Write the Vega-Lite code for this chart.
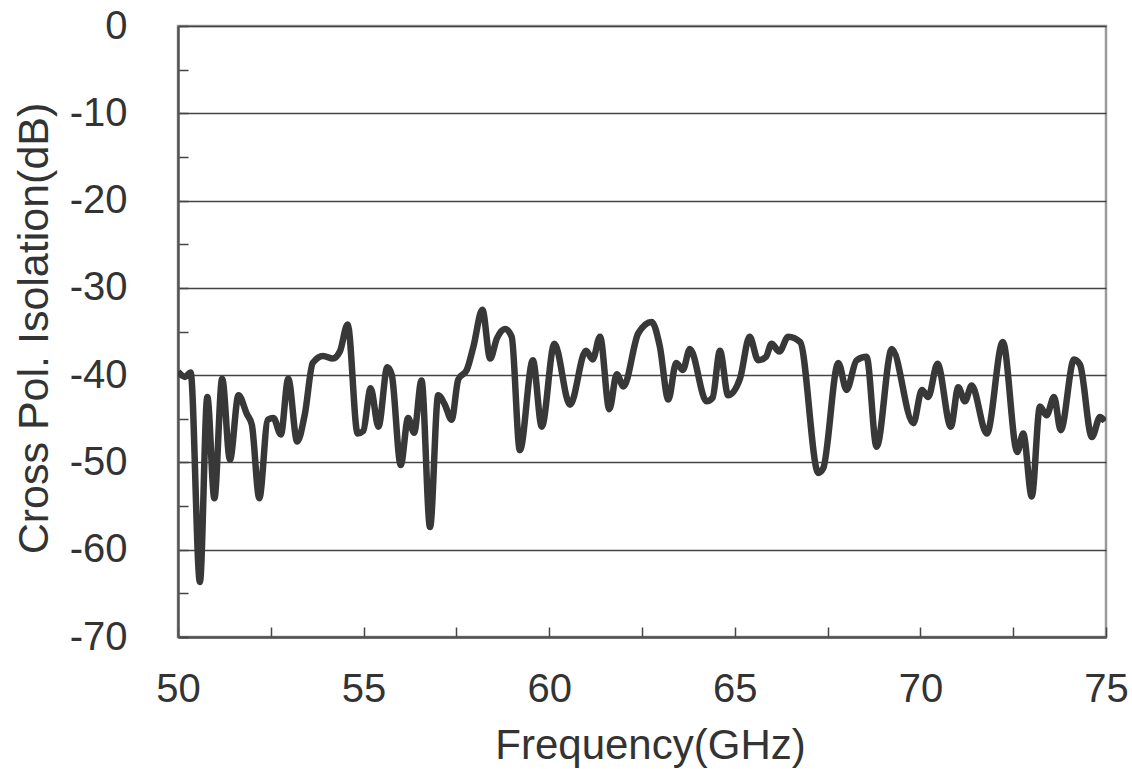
{
  "$schema": "https://vega.github.io/schema/vega-lite/v6.json",
  "width": 928,
  "height": 611,
  "autosize": {"type": "none"},
  "padding": {"left": 178, "top": 26, "right": 26, "bottom": 132},
  "background": "white",
  "config": {
    "view": {"stroke": "#9a9a9a", "strokeWidth": 2.5},
    "font": "Liberation Sans"
  },
  "data": {
    "values": [
      {"f": 50.0, "v": -39.6}, {"f": 50.19, "v": -40.2}, {"f": 50.34, "v": -39.7},
      {"f": 50.59, "v": -63.7}, {"f": 50.79, "v": -42.5}, {"f": 50.98, "v": -54.1},
      {"f": 51.19, "v": -40.4}, {"f": 51.4, "v": -49.7}, {"f": 51.63, "v": -42.3},
      {"f": 51.85, "v": -44.4}, {"f": 51.99, "v": -45.7}, {"f": 52.19, "v": -54.1},
      {"f": 52.42, "v": -45.1}, {"f": 52.57, "v": -44.9}, {"f": 52.77, "v": -46.8},
      {"f": 52.97, "v": -40.4}, {"f": 53.21, "v": -47.6}, {"f": 53.42, "v": -44.4},
      {"f": 53.63, "v": -38.6}, {"f": 53.91, "v": -37.8}, {"f": 54.17, "v": -38.1},
      {"f": 54.36, "v": -37.3}, {"f": 54.57, "v": -34.2}, {"f": 54.84, "v": -46.7},
      {"f": 54.99, "v": -46.4}, {"f": 55.19, "v": -41.5}, {"f": 55.4, "v": -45.9},
      {"f": 55.64, "v": -39.1}, {"f": 55.76, "v": -40.0}, {"f": 56.0, "v": -50.3},
      {"f": 56.2, "v": -44.9}, {"f": 56.36, "v": -46.6}, {"f": 56.56, "v": -40.6},
      {"f": 56.79, "v": -57.4}, {"f": 57.01, "v": -42.3}, {"f": 57.19, "v": -43.4},
      {"f": 57.37, "v": -45.1}, {"f": 57.55, "v": -40.5}, {"f": 57.78, "v": -39.4},
      {"f": 57.96, "v": -36.7}, {"f": 58.2, "v": -32.5}, {"f": 58.41, "v": -38.1},
      {"f": 58.59, "v": -35.8}, {"f": 58.81, "v": -34.7}, {"f": 58.99, "v": -35.6},
      {"f": 59.21, "v": -48.6}, {"f": 59.56, "v": -38.3}, {"f": 59.8, "v": -45.9},
      {"f": 60.14, "v": -36.4}, {"f": 60.56, "v": -43.4}, {"f": 60.99, "v": -37.2},
      {"f": 61.17, "v": -38.2}, {"f": 61.37, "v": -35.6}, {"f": 61.62, "v": -43.9},
      {"f": 61.82, "v": -39.9}, {"f": 62.0, "v": -41.3}, {"f": 62.4, "v": -35.2},
      {"f": 62.76, "v": -33.9}, {"f": 62.98, "v": -36.7}, {"f": 63.21, "v": -42.8},
      {"f": 63.42, "v": -38.6}, {"f": 63.6, "v": -39.4}, {"f": 63.79, "v": -37.0},
      {"f": 64.24, "v": -43.0}, {"f": 64.4, "v": -42.6}, {"f": 64.6, "v": -37.2},
      {"f": 64.82, "v": -42.3}, {"f": 65.14, "v": -40.4}, {"f": 65.4, "v": -35.6},
      {"f": 65.63, "v": -38.3}, {"f": 65.84, "v": -37.9}, {"f": 65.99, "v": -36.4},
      {"f": 66.2, "v": -37.3}, {"f": 66.44, "v": -35.6}, {"f": 66.76, "v": -36.2},
      {"f": 67.25, "v": -51.2}, {"f": 67.38, "v": -50.7}, {"f": 67.79, "v": -38.6},
      {"f": 68.01, "v": -41.7}, {"f": 68.28, "v": -38.3}, {"f": 68.55, "v": -37.9},
      {"f": 68.82, "v": -48.2}, {"f": 69.23, "v": -37.0}, {"f": 69.81, "v": -45.5},
      {"f": 70.04, "v": -41.7}, {"f": 70.21, "v": -42.5}, {"f": 70.46, "v": -38.7},
      {"f": 70.82, "v": -45.9}, {"f": 71.02, "v": -41.4}, {"f": 71.2, "v": -43.0},
      {"f": 71.38, "v": -41.2}, {"f": 71.79, "v": -46.7}, {"f": 72.22, "v": -36.2},
      {"f": 72.61, "v": -48.8}, {"f": 72.77, "v": -46.7}, {"f": 73.0, "v": -53.9},
      {"f": 73.22, "v": -43.6}, {"f": 73.4, "v": -44.6}, {"f": 73.6, "v": -42.5},
      {"f": 73.78, "v": -46.3}, {"f": 74.14, "v": -38.2}, {"f": 74.3, "v": -38.8},
      {"f": 74.62, "v": -47.1}, {"f": 74.84, "v": -44.8}, {"f": 74.97, "v": -45.3}
    ]
  },
  "mark": {"type": "line", "interpolate": "monotone", "color": "#383838", "strokeWidth": 6.5, "clip": true},
  "encoding": {
    "x": {
      "field": "f",
      "type": "quantitative",
      "scale": {"domain": [50, 75], "nice": false, "zero": false},
      "axis": {
        "title": "Frequency(GHz)",
        "values": [50, 52.5, 55, 57.5, 60, 62.5, 65, 67.5, 70, 72.5, 75],
        "labelExpr": "datum.value % 5 == 0 ? '' + datum.value : ''",
        "labelFontSize": 40,
        "labelColor": "#333333",
        "labelPadding": 42,
        "labelFlush": false,
        "labelOverlap": false,
        "tickSize": -10,
        "tickColor": "#444444",
        "tickWidth": 1.5,
        "domainColor": "#555555",
        "domainWidth": 2.5,
        "grid": false,
        "titleFontSize": 42,
        "titleFontWeight": "normal",
        "titleColor": "#333333",
        "titleX": 472,
        "titleY": 121,
        "titleBaseline": "alphabetic",
        "titleAnchor": "middle"
      }
    },
    "y": {
      "field": "v",
      "type": "quantitative",
      "scale": {"domain": [-70, 0], "nice": false},
      "axis": {
        "title": "Cross Pol. Isolation(dB)",
        "values": [-70, -65, -60, -55, -50, -45, -40, -35, -30, -25, -20, -15, -10, -5, 0],
        "labelExpr": "datum.value % 10 == 0 ? '' + datum.value : ''",
        "labelFontSize": 40,
        "labelColor": "#333333",
        "labelPadding": 61,
        "labelFlush": false,
        "labelOverlap": false,
        "tickSize": -10,
        "tickColor": "#444444",
        "tickWidth": 1.5,
        "domainColor": "#555555",
        "domainWidth": 2.5,
        "grid": true,
        "gridColor": {"condition": {"test": "datum.value % 10 != 0", "value": "transparent"}, "value": "#444444"},
        "gridWidth": 1.5,
        "titleFontSize": 43,
        "titleFontWeight": "normal",
        "titleColor": "#333333",
        "titleAngle": -90,
        "titleX": -131,
        "titleY": 302,
        "titleBaseline": "alphabetic",
        "titleAlign": "center"
      }
    }
  }
}
